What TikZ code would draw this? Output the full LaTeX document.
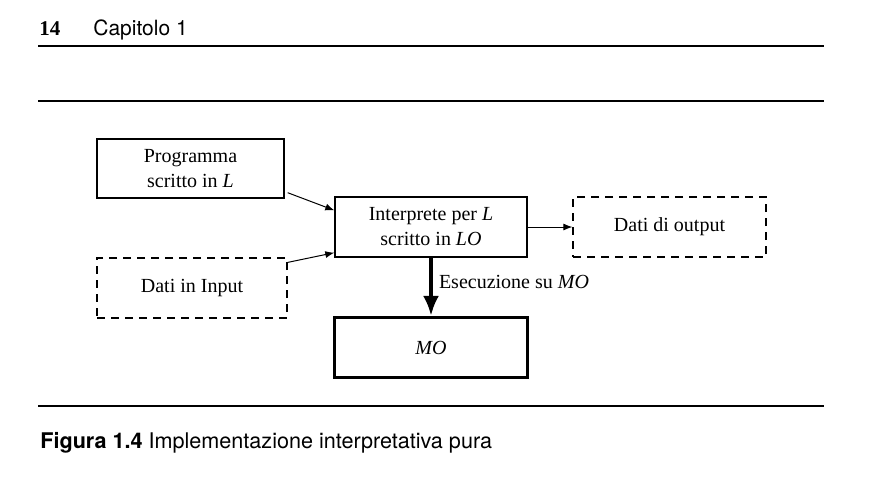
\documentclass[tikz,border=0pt]{standalone}
\usepackage{fontspec}
\setmainfont{Liberation Serif}
\newfontfamily\heros{TeX Gyre Heros}
\usetikzlibrary{arrows.meta}

\begin{document}
\begin{tikzpicture}[x=0.5pt,y=-0.5pt]
        \tikzstyle{box}=[draw, line width=0.7pt, minimum width=96pt, minimum height=30pt, align=center, inner sep=0pt, font=\fontsize{10}{12.5}\selectfont]
        \tikzstyle{dashedbox}=[line width=0.6pt, dash pattern=on 4pt off 3pt]
        \tikzstyle{thin arrow}=[line width=0.5pt, -{Latex[length=4.5pt,width=3.5pt]}]
        \tikzstyle{thick arrow}=[line width=2pt, -{Latex[length=10pt,width=8pt]}]
        \tikzstyle{rule}=[line width=0.7pt]
        \useasboundingbox (0,0) rectangle (887,479);
        % page head
        \node[anchor=base west, inner sep=0pt, font=\fontsize{10.5}{12}\selectfont\bfseries] (pagenum) at (39,35) {14};
        \node[anchor=base west, inner sep=0pt, font=\heros\fontsize{10.5}{12}\selectfont] (chapter) at (93,35) {Capitolo 1};
        \draw[rule] (38,46) -- (824,46);
        \draw[rule] (38,101) -- (824,101);
        % boxes
        \node[box, minimum width=93.5pt, minimum height=29.5pt] (prog) at (190.5,168.5) {Programma\\scritto in \textit{L}};
        \node[box] (interp) at (431,227) {Interprete per \textit{L}\\scritto in \textit{LO}};
        \node[box, dashedbox, minimum width=95pt] (input) at (192,288) {Dati in Input};
        \node[box, dashedbox, minimum width=96.5pt] (output) at (669.5,227) {Dati di output};
        \node[box, line width=1.6pt, minimum width=96.5pt] (mo) at (431,347.5) {\textit{MO}};
        % connectors
        \draw[thin arrow] ([xshift=1.5pt,yshift=3pt]prog.south east) -- ([yshift=-7pt]interp.north west);
        \draw[thin arrow] ([yshift=-2.5pt]input.north east) -- ([yshift=2.5pt]interp.south west);
        \draw[thin arrow] (interp.east) -- (output.west);
        \draw[thick arrow] (interp.south) -- node[anchor=base west, pos=0.53, xshift=3pt, inner sep=0pt, font=\fontsize{10}{12}\selectfont] (exec) {Esecuzione su \textit{MO}} (mo.north);
        % caption
        \draw[rule] (38,406) -- (824,406);
        \node[anchor=base west, inner sep=0pt, font=\heros\fontsize{10.8}{13}\selectfont] (caption) at (40,448) {\textbf{Figura 1.4} Implementazione interpretativa pura};
\end{tikzpicture}
\end{document}
